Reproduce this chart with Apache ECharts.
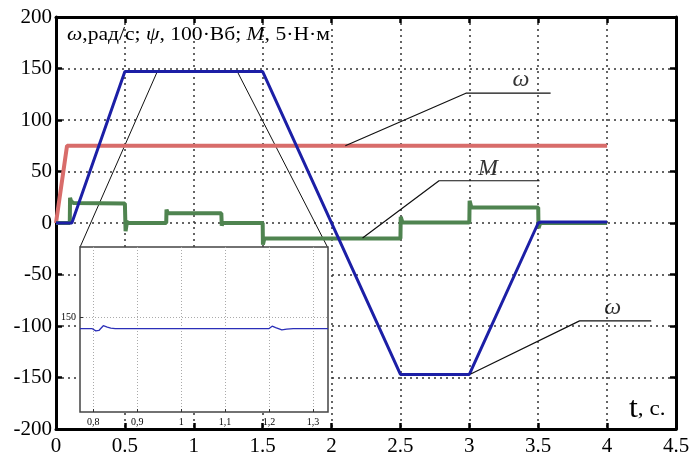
<!DOCTYPE html>
<html>
<head>
<meta charset="utf-8">
<script src="https://cdn.jsdelivr.net/npm/echarts@6.0.0/dist/echarts.min.js"></script>
<style>
  html, body { margin: 0; padding: 0; background: #fff; }
  #chart { width: 693px; height: 457px; }
</style>
</head>
<body>
<div id="chart"></div>
<script>
// ω, рад/с  (speed)
const omegaData = [
  [0, 0], [0.115, 0], [0.5, 147], [1.5, 147], [2.5, -147], [3.0, -147],
  [3.5, 0], [3.52, 1], [4.0, 1]
]
// ψ, 100·Вб  (flux)
const psiData = [[0, 0], [0.08, 75], [4.0, 75]]
// M, 5·Н·м  (torque)
const torqueData = [
  [0, 0], [0.1, 0], [0.102, 24.5], [0.11, 21], [0.125, 19.5], [0.5, 19],
  [0.505, -8], [0.515, 1], [0.53, 0], [0.8, 0], [0.802, 13], [0.812, 9.5],
  [1.2, 9.5], [1.203, -2.5], [1.21, 0], [1.5, 0], [1.502, -21], [1.512, -15],
  [2.5, -15], [2.502, 6], [2.515, 0.5], [3.0, 0.5], [3.002, 21.5], [3.015, 15],
  [3.5, 15], [3.502, -5], [3.515, 0], [4.0, 0]
]
// zoomed view of ω on the plateau
const insetOmega = [
  [0.77, 147.7], [0.797, 147.7], [0.806, 147.2], [0.813, 147.3], [0.823, 148.3],
  [0.832, 148.0], [0.84, 147.8], [0.85, 147.7], [1.2, 147.7], [1.207, 148.2],
  [1.215, 147.9], [1.229, 147.4], [1.24, 147.6], [1.255, 147.7], [1.334, 147.7]
]
const insetTicks = [0.8, 0.9, 1, 1.1, 1.2, 1.3]

// leader lines for the labels (data units)
const leaderPsi = [[2.1, 75], [2.975, 126], [3.59, 126]]
const leaderM = [[2.225, -14.6], [2.78, 41], [3.51, 41]]
const leaderOmega = [[3.01, -146.6], [3.8, -95], [4.32, -95]]
const zoomLinkLeft = [[0.735, 147], [0.175, -23.3]]
const zoomLinkRight = [[1.316, 147], [1.97, -23.3]]
const curveLabels = [[3.375, 139, 'ω'], [3.135, 53, 'M'], [4.04, -82, 'ω']]

const serif = "'Liberation Serif', 'DejaVu Serif', serif"
const chart = echarts.init(document.getElementById('chart'), null, {renderer: 'canvas'})

const dotted = {color: '#333', width: 1.5, type: [2, 4]}
const tick = {show: true, inside: true, length: 6, lineStyle: {color: '#000', width: 2.5}}
const frame = {show: true, onZero: false, lineStyle: {color: '#000', width: 3}}
// текст подписей осей через rich, чтобы шрифт точно применился
const serifRich = size => ({s: {fontFamily: serif, fontSize: size, color: '#000'}})

const option = {
  backgroundColor: '#ffffff',
  animation: false,
  textStyle: {fontFamily: serif},
  grid: [
    {left: 56, right: 17, top: 17, bottom: 28, containLabel: false},
    /** вставка */
    {left: 80, top: 247, width: 248, height: 165, show: true, z: 3,
      backgroundColor: '#fff', borderColor: '#444', borderWidth: 1.5}
  ],
  xAxis: [
    {
      gridIndex: 0, position: 'bottom', type: 'value', min: 0, max: 4.5, interval: 0.5,
      axisLine: frame, axisTick: tick,
      axisLabel: {margin: 7, formatter: v => '{s|' + v + '}', rich: serifRich(21)},
      splitLine: {show: true, lineStyle: dotted}
    },
    {
      gridIndex: 0, position: 'top', type: 'value', min: 0, max: 4.5, interval: 0.5,
      axisLine: frame, axisTick: tick, axisLabel: {show: false}, splitLine: {show: false}
    },
    {
      gridIndex: 1, type: 'value', min: 0.77, max: 1.334, z: 4,
      axisLine: {show: false},
      axisTick: {show: true, inside: true, length: 3, customValues: insetTicks,
        lineStyle: {color: '#333', width: 1}},
      axisLabel: {customValues: insetTicks, margin: 5,
        formatter: v => '{s|' + String(v).replace('.', ',') + '}', rich: serifRich(10)},
      splitLine: {show: true, lineStyle: {color: '#aaa', width: 1, type: [1, 2]}}
    }
  ],
  yAxis: [
    {
      gridIndex: 0, position: 'left', type: 'value', min: -200, max: 200, interval: 50,
      axisLine: frame, axisTick: tick,
      axisLabel: {margin: 4, formatter: v => '{s|' + v + '}', rich: serifRich(21)},
      splitLine: {show: true, lineStyle: dotted}
    },
    {
      gridIndex: 0, position: 'right', type: 'value', min: -200, max: 200, interval: 50,
      axisLine: frame, axisTick: tick, axisLabel: {show: false}, splitLine: {show: false}
    },
    {
      gridIndex: 1, type: 'value', min: 130, max: 165, z: 4,
      axisLine: {show: false},
      axisTick: {show: true, inside: true, length: 3, customValues: [150],
        lineStyle: {color: '#333', width: 1}},
      axisLabel: {customValues: [150], margin: 4,
        formatter: v => '{s|' + v + '}', rich: serifRich(10)},
      splitLine: {show: true, lineStyle: {color: '#aaa', width: 1, type: [1, 2]}}
    }
  ],
  series: [
    {name: 'zoomL', type: 'line', data: zoomLinkLeft, symbol: 'none', z: 1,
      lineStyle: {color: '#111', width: 1}},
    {name: 'zoomR', type: 'line', data: zoomLinkRight, symbol: 'none', z: 1,
      lineStyle: {color: '#111', width: 1}},
    {name: 'ψ', type: 'line', data: psiData, symbol: 'none',
      lineStyle: {color: '#d86c6a', width: 4}},
    {name: 'M', type: 'line', data: torqueData, symbol: 'none',
      lineStyle: {color: '#4f8450', width: 4}},
    {name: 'ω', type: 'line', data: omegaData, symbol: 'none',
      lineStyle: {color: '#1c1fa6', width: 3}},
    {name: 'leaderPsi', type: 'line', data: leaderPsi, symbol: 'none',
      lineStyle: {color: '#111', width: 1.2}},
    {name: 'leaderM', type: 'line', data: leaderM, symbol: 'none',
      lineStyle: {color: '#111', width: 1.2}},
    {name: 'leaderOmega', type: 'line', data: leaderOmega, symbol: 'none',
      lineStyle: {color: '#111', width: 1.2}},
    {name: 'labels', type: 'scatter', data: curveLabels, symbolSize: 0, silent: true,
      label: {show: true, position: 'inside', formatter: p => '{s|' + p.data[2] + '}',
        rich: {s: {fontFamily: serif, fontStyle: 'italic', fontSize: 24, color: '#000'}}}},
    {name: 'ωzoom', type: 'line', data: insetOmega, symbol: 'none', xAxisIndex: 2, yAxisIndex: 2, z: 5,
      lineStyle: {color: '#2b2fb8', width: 1.3}}
  ],
  graphic: [
    {
      type: 'text', x: 67, y: 26, scaleX: 1.2, z: 10,
      style: {
        text: '{i|ω}{n|,рад/с; }{i|ψ}{n|, 100·Вб; }{i|M}{n|, 5·Н·м}',
        rich: {
          i: {fontFamily: serif, fontStyle: 'italic', fontSize: 18, fill: '#000'},
          n: {fontFamily: serif, fontSize: 18, fill: '#000'}
        }
      }
    },
    {
      type: 'text', x: 629, y: 395, scaleX: 1.1, z: 10,
      style: {
        text: '{t|t}{c|, с.}',
        rich: {
          t: {fontFamily: serif, fontSize: 29, fill: '#000'},
          c: {fontFamily: serif, fontSize: 21, fill: '#000'}
        }
      }
    }
  ]
}

chart.setOption(option)
</script>
</body>
</html>
